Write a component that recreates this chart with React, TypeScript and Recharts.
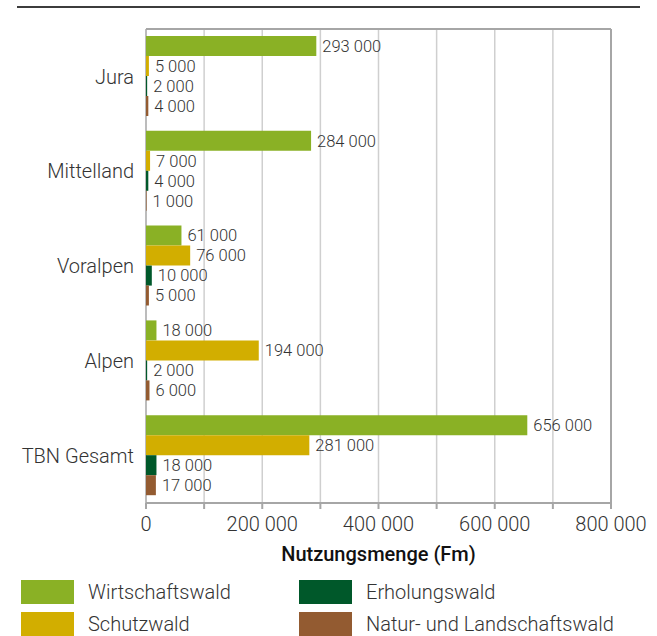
import { BarChart, Bar, XAxis, YAxis, CartesianGrid, LabelList, ReferenceLine } from 'recharts'

const categories = ['Jura', 'Mittelland', 'Voralpen', 'Alpen', 'TBN Gesamt']
const wirtschaftswald = [293000, 284000, 61000, 18000, 656000]
const schutzwald = [5000, 7000, 76000, 194000, 281000]
const erholungswald = [2000, 4000, 10000, 2000, 18000]
const naturwald = [4000, 1000, 5000, 6000, 17000]
const xTicks = [0, 100000, 200000, 300000, 400000, 500000, 600000, 700000, 800000]

const SERIES = [
      { key: 'wirtschaftswald', name: 'Wirtschaftswald', color: '#8ab125' },
      { key: 'schutzwald', name: 'Schutzwald', color: '#d2ae00' },
      { key: 'erholungswald', name: 'Erholungswald', color: '#00582a' },
      { key: 'naturwald', name: 'Natur- und Landschaftswald', color: '#935b31' },
]

const data = categories.map((name, i) => ({
      name,
      wirtschaftswald: wirtschaftswald[i],
      schutzwald: schutzwald[i],
      erholungswald: erholungswald[i],
      naturwald: naturwald[i],
}))

// thousands separated by a space, e.g. 293 000
const fmt = (v: any) => String(v).replace(/\B(?=(\d{3})+(?!\d))/g, ' ')

const FONT = 'Roboto, sans-serif'
const AXIS = '#a6a6a6'

// grid lines under the bars; the first one doubles as the left axis
const GridLine = (p: any) => (
      <line
            key={p.key ?? p.index}
            x1={p.x1}
            y1={p.y1}
            x2={p.x2}
            y2={p.y2}
            stroke={p.index === 0 ? AXIS : '#cfcfcf'}
            strokeWidth={1.5}
      />
)

export default function App() {
      return (
            <div style={{ position: 'absolute', left: 0, top: 0, width: 657, height: 636, fontFamily: FONT }}>
                  {/* rule above the chart */}
                  <div style={{ position: 'absolute', left: 17, top: 6, width: 623, height: 2, background: '#3c3c3c' }} />
                  <BarChart
                        width={657}
                        height={570}
                        data={data}
                        layout="vertical"
                        margin={{ top: 29, right: 46, bottom: 0, left: 0 }}
                        barSize={20}
                        barGap={0}
                  >
                        <CartesianGrid horizontal={false} vertical={GridLine} />
                        <XAxis
                              type="number"
                              domain={[0, 800000]}
                              ticks={xTicks}
                              tickFormatter={(v) => (v % 200000 === 0 ? fmt(v) : '')}
                              stroke={AXIS}
                              strokeWidth={2}
                              tickSize={6}
                              tickMargin={8}
                              tick={{ fill: '#333', fontSize: 20, fontWeight: 300, fontFamily: FONT }}
                              height={67}
                              label={{ value: 'Nutzungsmenge (Fm)', position: 'insideBottom', offset: 9, fill: '#111', fontSize: 20, fontWeight: 500, fontFamily: FONT }}
                        />
                        <YAxis
                              type="category"
                              dataKey="name"
                              width={146}
                              axisLine={false}
                              tickLine={false}
                              tickSize={0}
                              tickMargin={12}
                              tick={{ fill: '#333', fontSize: 20, fontWeight: 300, fontFamily: FONT }}
                        />
                        {/* frame: top and right edges of the plot */}
                        <ReferenceLine y={categories[0]} position="start" stroke={AXIS} strokeWidth={2} />
                        <ReferenceLine x={800000} stroke={AXIS} strokeWidth={2} />
                        {SERIES.map((s) => (
                              <Bar key={s.key} dataKey={s.key} name={s.name} fill={s.color} isAnimationActive={false}>
                                    <LabelList
                                          dataKey={s.key}
                                          position="right"
                                          offset={6}
                                          formatter={fmt}
                                          style={{ fill: '#333', fontSize: 16.5, fontWeight: 300, fontFamily: FONT }}
                                    />
                              </Bar>
                        ))}
                  </BarChart>
                  {/* legend, two columns */}
                  {SERIES.map((s, i) => (
                        <div
                              key={s.key}
                              style={{
                                    position: 'absolute',
                                    left: i < 2 ? 21 : 299,
                                    top: i % 2 === 0 ? 580 : 612,
                                    display: 'flex',
                                    alignItems: 'center',
                                    height: 24,
                              }}
                        >
                              <div style={{ width: 53, height: 24, background: s.color }} />
                              <span style={{ marginLeft: 14, fontSize: 20, fontWeight: 300, color: '#333' }}>{s.name}</span>
                        </div>
                  ))}
            </div>
      )
}
